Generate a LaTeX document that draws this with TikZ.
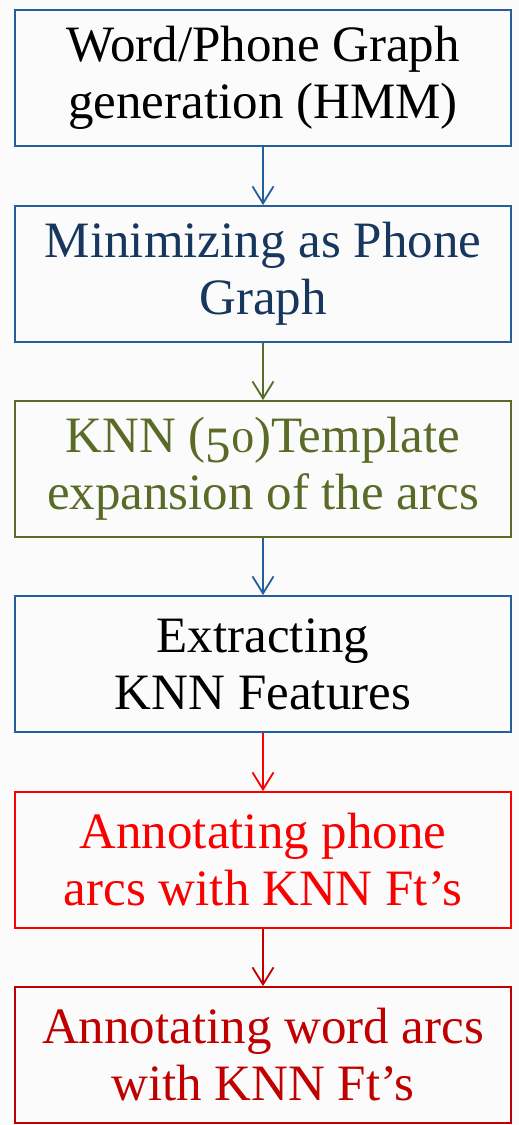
\documentclass[tikz,border=0pt]{standalone}
\usepackage{fontspec}
\setmainfont{Liberation Serif}
\usetikzlibrary{arrows.meta}
\definecolor{bbord}{RGB}{37,94,158}
\definecolor{dblue}{RGB}{23,55,94}
\definecolor{olive}{RGB}{90,107,40}
\definecolor{bred}{RGB}{250,0,0}
\definecolor{dred}{RGB}{192,0,0}
\definecolor{bg}{RGB}{251,251,251}
\newcommand{\osfive}{\raisebox{-0.2em}{5}}
\newcommand{\oszero}{\scalebox{0.9}[0.68]{0}}
\begin{document}
\begin{tikzpicture}[x=1pt,y=1pt,
  stepbox/.style={draw, line width=1.8pt, minimum width=496pt, minimum height=136pt,
    inner sep=0pt, align=center, font=\fontsize{51}{57}\selectfont},
  flow/.style={line width=1.8pt, -{Straight Barb[length=17pt,width=21pt,line width=1.8pt]}}]
\fill[bg] (0,0) rectangle (519,-1125);
\useasboundingbox (0,0) rectangle (519,-1125);
\node[stepbox, bbord, text=black] (b1) at (263,-78) {Word/Phone Graph\\generation (HMM)};
\node[stepbox, bbord, text=dblue] (b2) at (263,-274) {Minimizing as Phone\\Graph};
\node[stepbox, olive, text=olive] (b3) at (263,-469) {KNN (\osfive\oszero)Template\\expansion of the arcs};
\node[stepbox, bbord, text=black] (b4) at (263,-664) {Extracting\\KNN Features};
\node[stepbox, bred, text=bred] (b5) at (263,-860) {Annotating phone\\arcs with KNN Ft’s};
\node[stepbox, dred, text=dred] (b6) at (263,-1055) {Annotating word arcs\\with KNN Ft’s};
\draw[flow, bbord] (b1) -- (b2);
\draw[flow, olive] (b2) -- (b3);
\draw[flow, bbord] (b3) -- (b4);
\draw[flow, bred] (b4) -- (b5);
\draw[flow, dred] (b5) -- (b6);
\end{tikzpicture}
\end{document}
